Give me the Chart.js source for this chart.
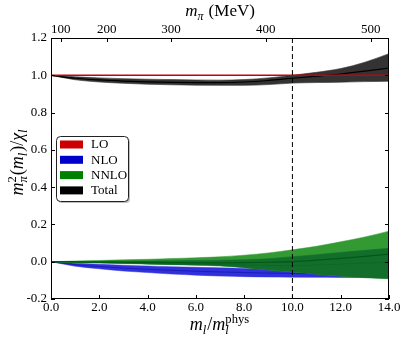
<!DOCTYPE html>
<html>
<head>
<meta charset="utf-8">
<script src="https://cdn.jsdelivr.net/npm/chart.js@4.4.1/dist/chart.umd.min.js"></script>
<style>
    html, body { margin: 0; padding: 0; background: #fff; }
    #wrap { width: 407px; height: 344px; }
</style>
</head>
<body>
<div id="wrap"><canvas id="chart" width="407" height="344"></canvas></div>
<script>
    // x = m_l / m_l^phys
    const xs = [0, 1, 2, 3, 4, 5, 6, 7, 8, 9, 10, 11, 12, 13, 14];

    const loRatio = [1, 1, 1, 1, 1, 1, 1, 1, 1, 1, 1, 1, 1, 1, 1];

    const totalHi  = [1.000, 0.992, 0.986, 0.982, 0.979, 0.977, 0.975, 0.974, 0.977, 0.986, 1.000, 1.016, 1.036, 1.070, 1.116];
    const totalMid = [1.000, 0.984, 0.975, 0.969, 0.965, 0.962, 0.961, 0.961, 0.964, 0.972, 0.984, 0.995, 1.007, 1.022, 1.039];
    const totalLo  = [1.000, 0.976, 0.964, 0.957, 0.952, 0.949, 0.947, 0.946, 0.946, 0.950, 0.958, 0.961, 0.963, 0.966, 0.968];

    const nloHi  = [0, -0.008, -0.014, -0.019, -0.023, -0.027, -0.030, -0.033, -0.036, -0.039, -0.042, -0.044, -0.046, -0.048, -0.050];
    const nloMid = [0, -0.016, -0.026, -0.034, -0.041, -0.046, -0.051, -0.055, -0.058, -0.061, -0.063, -0.064, -0.065, -0.066, -0.067];
    const nloLo  = [0, -0.024, -0.038, -0.050, -0.058, -0.066, -0.072, -0.077, -0.080, -0.082, -0.083, -0.084, -0.085, -0.085, -0.086];

    const nnloHi    = [0, 0.004, 0.007, 0.010, 0.013, 0.017, 0.021, 0.026, 0.035, 0.047, 0.064, 0.083, 0.107, 0.133, 0.164];
    const nnloInHi  = [0, 0.001, 0.002, 0.003, 0.004, 0.005, 0.006, 0.008, 0.011, 0.016, 0.027, 0.038, 0.050, 0.061, 0.072];
    const nnloMid   = [0, -0.001, -0.002, -0.003, -0.004, -0.005, -0.006, -0.006, -0.005, -0.003, 0.000, 0.008, 0.018, 0.029, 0.041];
    const nnloLine2 = [0, -0.003, -0.005, -0.007, -0.009, -0.011, -0.013, -0.015, -0.018, -0.020, -0.021, -0.018, -0.013, -0.007, -0.003];
    const nnloLo    = [0, -0.004, -0.007, -0.010, -0.013, -0.016, -0.019, -0.023, -0.032, -0.045, -0.055, -0.067, -0.078, -0.086, -0.092];

    // top axis: m_pi in MeV, placed at the m_l/m_l^phys value where it falls
    const topTickLabels = ['100', '200', '300', '400', '500'];
    const topTickX = [0.40, 2.31, 4.97, 8.89, 13.24];

    const physLineX = 10;

    const legendNames = ['LO', 'NLO', 'NNLO', 'Total'];
    const legendColors = ['#cc0000', '#0000cc', '#008000', '#000000'];

    const SERIF = '"Liberation Serif", "DejaVu Serif", serif';
    const TICK_FONT = { family: SERIF, size: 13 };

    function pts(ys) {
        return ys.map((y, i) => ({ x: xs[i], y }));
    }

    function curve(label, ys, color, width, extra) {
        return Object.assign({
            label,
            data: pts(ys),
            borderColor: color,
            backgroundColor: color,
            borderWidth: width,
            pointRadius: 0,
            fill: false,
            cubicInterpolationMode: 'monotone',
        }, extra || {});
    }

    const datasets = [
        curve('LO', loRatio, '#cc0000', 1.4),                                    // 0
        curve('totalMid', totalMid, '#000000', 1.2),                             // 1
        curve('totalHi', totalHi, '#333333', 0.6, { fill: 3 }),                 // 2
        curve('totalLo', totalLo, '#333333', 0.6),                               // 3
        curve('nnloMid', nnloMid, '#005a14', 1.2),                               // 4
        curve('nnloLine2', nnloLine2, '#0f6326', 0.8),                           // 5
        curve('nnloInHi', nnloInHi, '#136e2c', 0.5, { fill: 8 }),               // 6
        curve('nnloHi', nnloHi, '#339933', 0.5, { fill: 8 }),                   // 7
        curve('nnloLo', nnloLo, '#2f9032', 0.5),                                 // 8
        curve('nloMid', nloMid, '#1c1cb8', 1.0),                                 // 9
        curve('nloHi', nloHi, '#3030dc', 0.5, { fill: 11 }),                    // 10
        curve('nloLo', nloLo, '#3030dc', 0.5),                                   // 11
    ];

    function fontFor(size, it) {
        return (it ? 'italic ' : '') + size + 'px ' + SERIF;
    }

    function layoutMath(ctx, parts, size) {
        let w = 0;
        const ops = [];
        parts.forEach((p) => {
            if (p.sub !== undefined || p.sup !== undefined) {
                const s = size * 0.7;
                let wmax = 0;
                if (p.sup !== undefined) {
                    const f = fontFor(s, p.supIt);
                    ctx.font = f;
                    wmax = Math.max(wmax, ctx.measureText(p.sup).width);
                    ops.push({ t: p.sup, font: f, x: w, dy: -size * 0.38 });
                }
                if (p.sub !== undefined) {
                    const f = fontFor(s, p.subIt);
                    ctx.font = f;
                    wmax = Math.max(wmax, ctx.measureText(p.sub).width);
                    ops.push({ t: p.sub, font: f, x: w, dy: size * 0.22 });
                }
                w += wmax + 1;
            } else {
                const f = fontFor(size, p.it);
                ctx.font = f;
                ops.push({ t: p.t, font: f, x: w, dy: 0 });
                w += ctx.measureText(p.t).width;
            }
        });
        return { w, ops };
    }

    function drawMath(ctx, parts, cx, cy, size, rot) {
        const m = layoutMath(ctx, parts, size);
        ctx.save();
        ctx.translate(cx, cy);
        if (rot) ctx.rotate(rot);
        ctx.fillStyle = '#000';
        ctx.textBaseline = 'alphabetic';
        ctx.textAlign = 'left';
        m.ops.forEach((o) => {
            ctx.font = o.font;
            ctx.fillText(o.t, o.x - m.w / 2, o.dy);
        });
        ctx.restore();
    }

    function fmt(v) {
        const n = Number(v);
        return (Math.abs(n) < 1e-9 ? 0 : n).toFixed(1);
    }

    const decorations = {
        id: 'decorations',
        afterDatasetsDraw(chart) {
            const ctx = chart.ctx;
            const ca = chart.chartArea;
            const x = chart.scales.x;
            const xTop = chart.scales.xTop;
            const y = chart.scales.y;

            // dashed physical-point marker
            const px = x.getPixelForValue(physLineX);
            ctx.save();
            ctx.strokeStyle = '#000';
            ctx.lineWidth = 1;
            ctx.setLineDash([5, 3]);
            ctx.beginPath();
            ctx.moveTo(px, ca.top);
            ctx.lineTo(px, ca.bottom);
            ctx.stroke();
            ctx.setLineDash([]);

            // frame + inward ticks
            ctx.strokeStyle = '#000';
            ctx.lineWidth = 1;
            ctx.strokeRect(ca.left + 0.5, ca.top + 0.5, ca.right - ca.left - 1, ca.bottom - ca.top - 1);
            ctx.beginPath();
            x.ticks.forEach((t) => {
                const p = Math.round(x.getPixelForValue(t.value)) + 0.5;
                ctx.moveTo(p, ca.bottom);
                ctx.lineTo(p, ca.bottom - 4);
            });
            xTop.ticks.forEach((t) => {
                const p = Math.round(xTop.getPixelForValue(t.value)) + 0.5;
                ctx.moveTo(p, ca.top);
                ctx.lineTo(p, ca.top + 4);
            });
            y.ticks.forEach((t) => {
                const p = Math.round(y.getPixelForValue(t.value)) + 0.5;
                ctx.moveTo(ca.left, p);
                ctx.lineTo(ca.left + 4, p);
                ctx.moveTo(ca.right, p);
                ctx.lineTo(ca.right - 4, p);
            });
            ctx.stroke();

            // legend
            const lx = 56, ly = 136, lw = 72, lh = 65;
            ctx.fillStyle = 'rgba(0,0,0,0.25)';
            ctx.beginPath();
            ctx.roundRect(lx + 2, ly + 2, lw, lh, 4);
            ctx.fill();
            ctx.fillStyle = '#fff';
            ctx.strokeStyle = '#222';
            ctx.beginPath();
            ctx.roundRect(lx + 0.5, ly + 0.5, lw, lh, 4);
            ctx.fill();
            ctx.stroke();
            ctx.font = '13px ' + SERIF;
            ctx.textBaseline = 'middle';
            ctx.textAlign = 'left';
            legendNames.forEach((name, i) => {
                const cy = ly + 8.5 + i * 15.3;
                ctx.fillStyle = legendColors[i];
                ctx.fillRect(lx + 4, cy - 4, 23, 8);
                ctx.fillStyle = '#000';
                ctx.fillText(name, lx + 35, cy + 0.5);
            });
            ctx.restore();
        },
        afterDraw(chart) {
            const ctx = chart.ctx;
            const ca = chart.chartArea;
            const cx = (ca.left + ca.right) / 2;
            drawMath(ctx, [
                { t: 'm', it: true }, { sub: 'π', subIt: true }, { t: ' (MeV)' },
            ], cx, 16, 17);
            drawMath(ctx, [
                { t: 'm', it: true }, { sub: 'l', subIt: true }, { t: '/' },
                { t: 'm', it: true }, { sub: 'l', sup: 'phys', subIt: true },
            ], cx, 330, 18);
            drawMath(ctx, [
                { t: 'm', it: true }, { sup: '2', sub: 'π', subIt: true }, { t: '(' },
                { t: 'm', it: true }, { sub: 'l', subIt: true }, { t: ')/' },
                { t: 'χ', it: true }, { sub: 'l', subIt: true },
            ], 23, 162, 18, -Math.PI / 2);
        },
    };

    new Chart(document.getElementById('chart'), {
        type: 'line',
        data: { datasets },
        options: {
            responsive: false,
            animation: false,
            devicePixelRatio: 1,
            layout: { padding: { right: 18 } },
            plugins: { legend: { display: false }, tooltip: { enabled: false } },
            scales: {
                x: {
                    type: 'linear', position: 'bottom', min: 0, max: 14,
                    grid: { display: false, drawTicks: false }, border: { display: false },
                    ticks: {
                        stepSize: 2, autoSkip: false, maxRotation: 0, padding: 1,
                        color: '#000', font: TICK_FONT,
                        callback: fmt,
                    },
                    afterFit: (s) => { s.height = 45; },
                },
                xTop: {
                    type: 'linear', position: 'top', min: 0, max: 14,
                    grid: { display: false, drawTicks: false }, border: { display: false },
                    afterBuildTicks: (s) => { s.ticks = topTickX.map((v) => ({ value: v })); },
                    ticks: {
                        autoSkip: false, maxRotation: 0, padding: 1,
                        color: '#000', font: TICK_FONT,
                        callback: (v, i) => topTickLabels[i],
                    },
                    afterFit: (s) => { s.height = 38; },
                },
                y: {
                    min: -0.2, max: 1.2,
                    grid: { display: false, drawTicks: false }, border: { display: false },
                    ticks: {
                        stepSize: 0.2, padding: 4,
                        color: '#000', font: TICK_FONT,
                        callback: fmt,
                    },
                    afterFit: (s) => { s.width = 51; },
                },
            },
        },
        plugins: [decorations],
    });
</script>
</body>
</html>
